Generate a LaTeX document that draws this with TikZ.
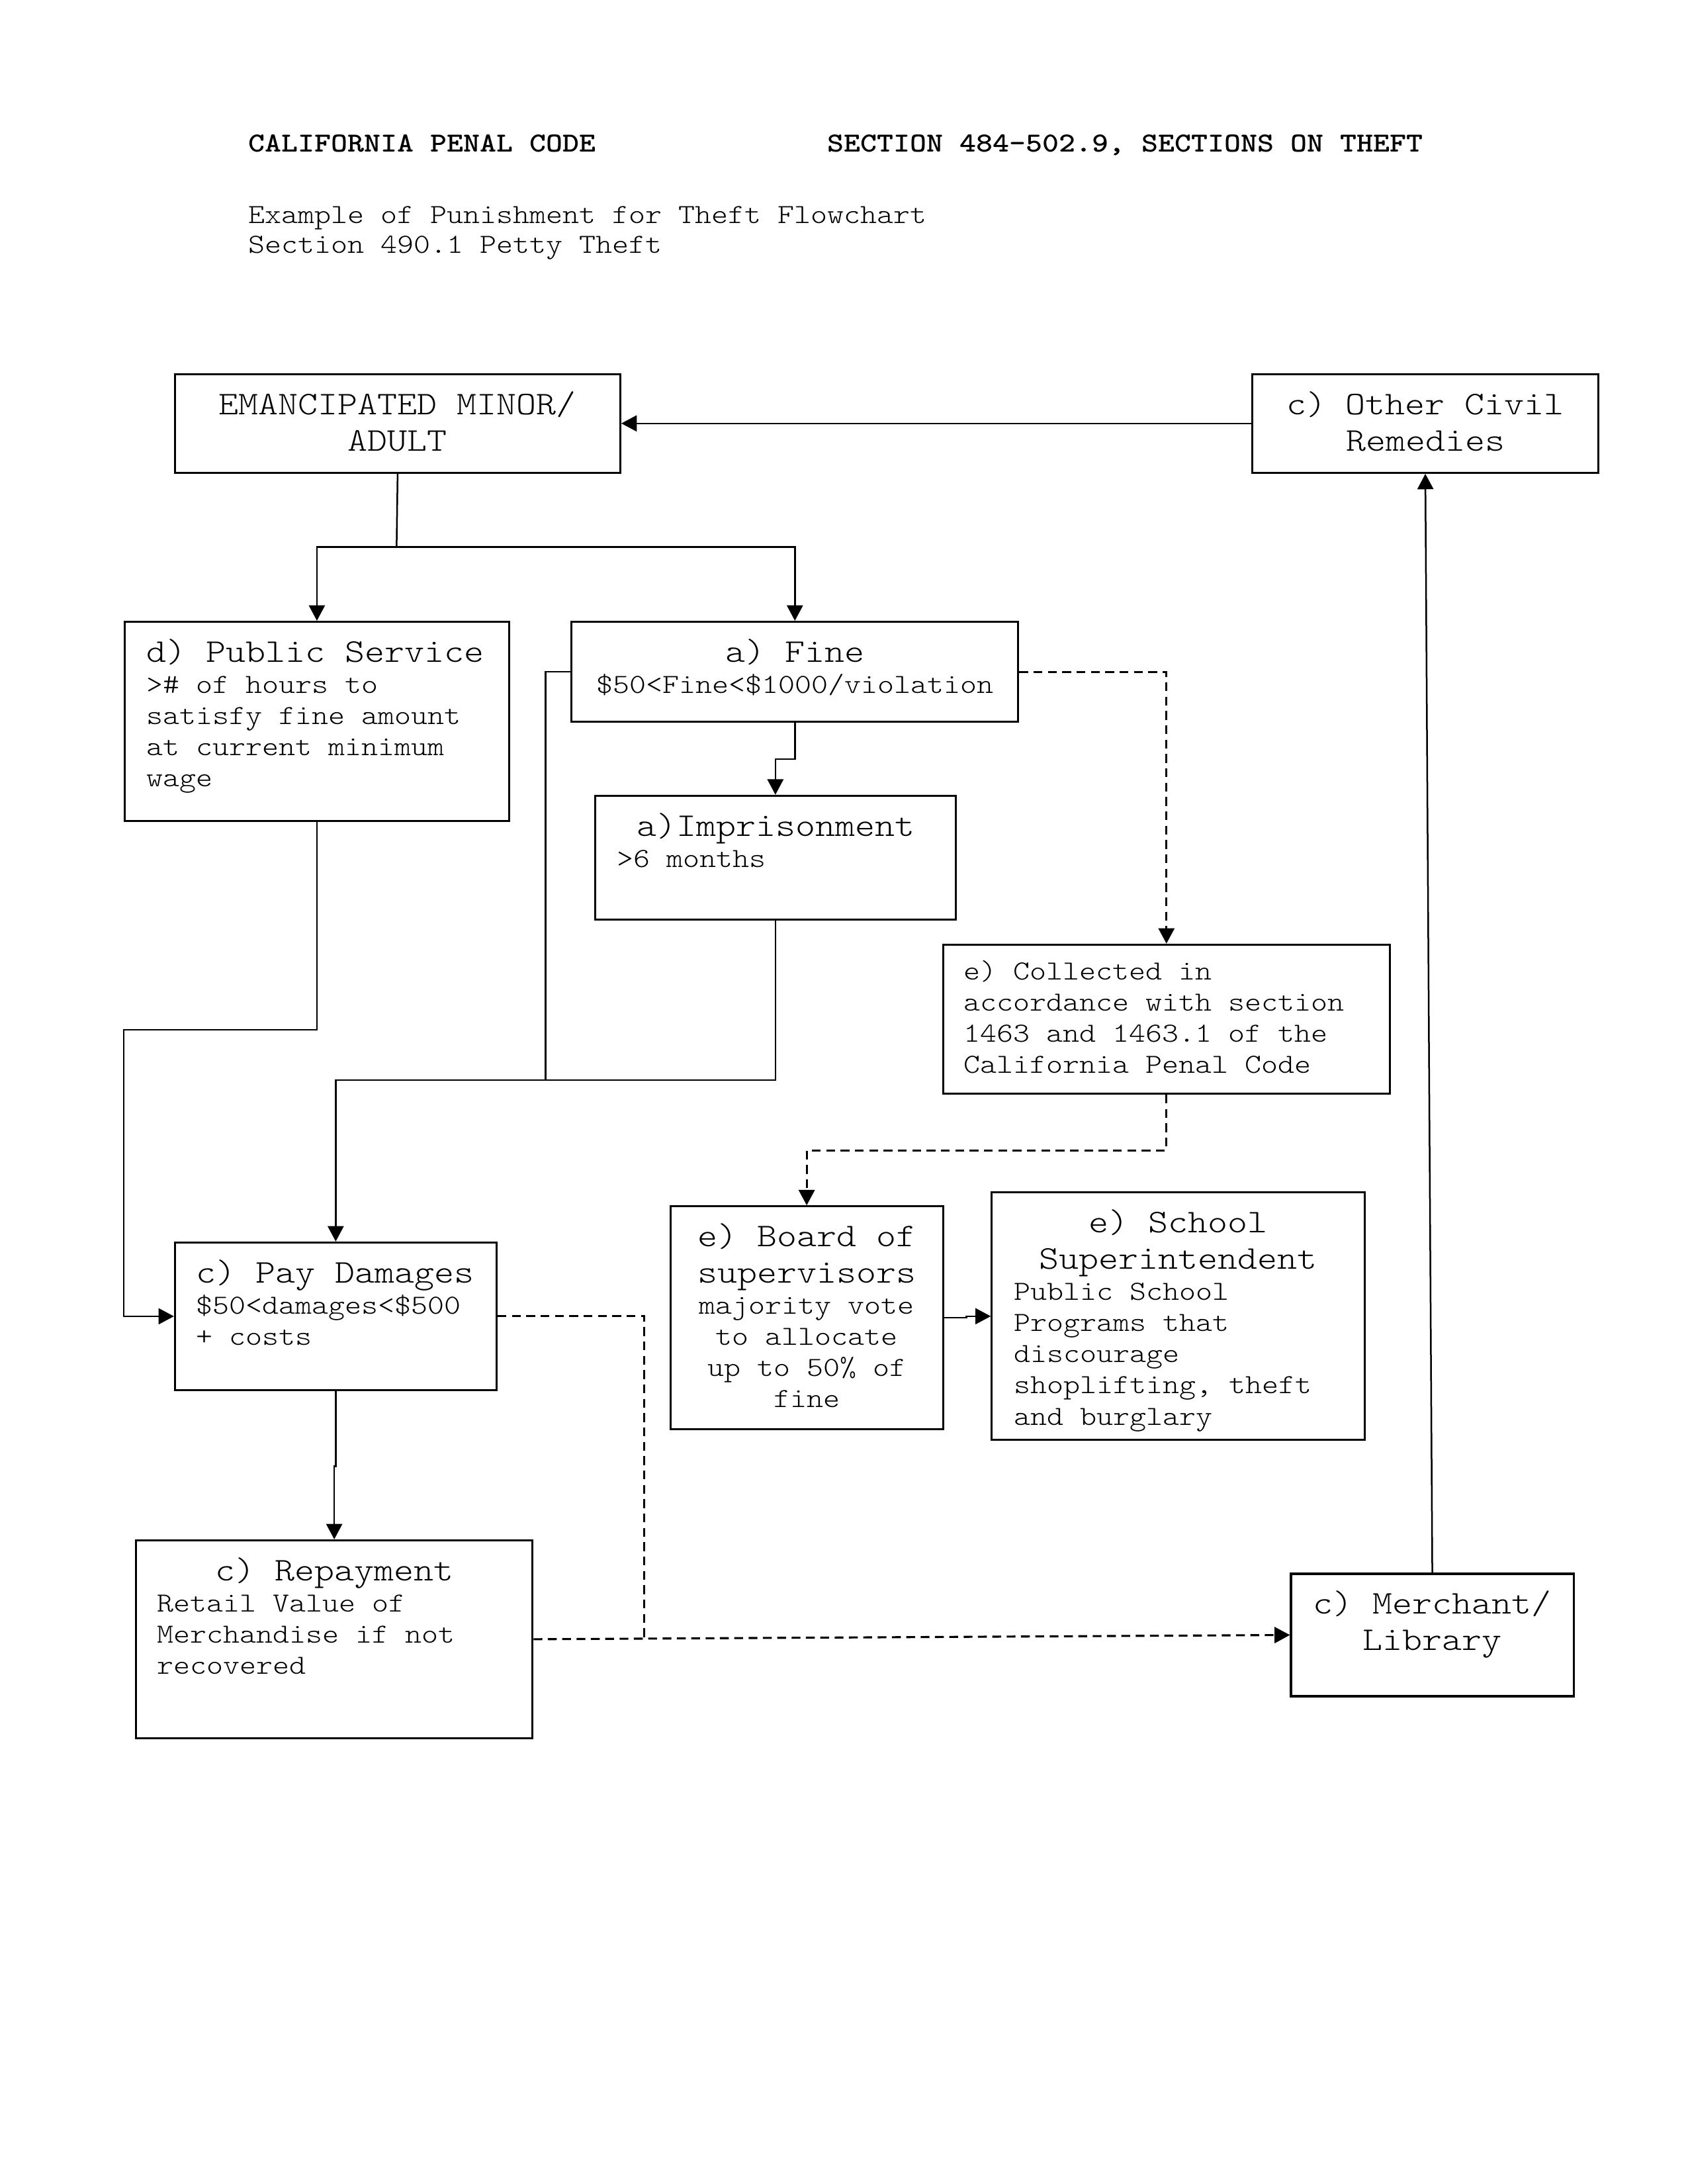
\documentclass[tikz,border=0pt]{standalone}
\usepackage{fontspec}
\setmainfont{Latin Modern Mono Light}[FakeStretch=1.1429]
\usetikzlibrary{arrows.meta}

\newcommand\headln[1]{{\fontsize{12}{13.2}\selectfont\spaceskip=0.6em\xspaceskip=0.6em #1\par}}
\newcommand\bodyln[1]{{\fontsize{10}{11.3}\selectfont\spaceskip=0.6em\xspaceskip=0.6em #1\par}}

\begin{document}
\begin{tikzpicture}[x=0.5047pt,y=-0.5047pt,
    box/.style={draw, line width=0.75pt, anchor=north west, inner ysep=5.6pt, text height=9pt},
    conn/.style={line width=0.6pt},
    arr/.style={conn, -{Triangle[length=5.6pt,width=5.8pt]}},
    dline/.style={line width=0.75pt, dash pattern=on 3.2pt off 2pt},
    darr/.style={dline, -{Triangle[length=5.6pt,width=5.8pt]}},
    hd/.style={anchor=base west, inner sep=0pt, font=\fontsize{10}{12}\selectfont}]
  \useasboundingbox (0,0) rectangle (1212.6,1569.2);

  % page heading
  \node[hd] (code) at (178,109) {\textbf{CALIFORNIA PENAL CODE}};
  \node[hd] (sect) at (594,109) {\textbf{SECTION 484-502.9, SECTIONS ON THEFT}};
  \node[hd] (title) at (178,160.5) {Example of Punishment for Theft Flowchart};
  \node[hd] (sub) at (178,182) {Section 490.1 Petty Theft};

  % boxes
  \node[box, align=center, inner xsep=4pt, text width=153.5pt, text depth=15.6pt] (emanc) at (125,268)
    {\headln{EMANCIPATED MINOR/}\headln{ADULT}};
  \node[box, align=center, inner xsep=4pt, text width=117.7pt, text depth=15.6pt] (civil) at (899,268)
    {\headln{c) Other Civil}\headln{Remedies}};
  \node[box, align=left, inner xsep=7.8pt, text width=123.7pt, text depth=52pt] (public) at (89,446)
    {\headln{d) Public Service}\bodyln{>\# of hours to}\bodyln{satisfy fine amount}%
     \bodyln{at current minimum}\bodyln{wage}};
  \node[box, align=center, inner xsep=4pt, text width=154pt, text depth=16.1pt] (fine) at (410,446)
    {\headln{a) Fine}\bodyln{\$50<Fine<\$1000/violation}};
  \node[box, align=left, inner xsep=8pt, text width=114.7pt, text depth=24.7pt] (prison) at (427,571)
    {\headln{~a)Imprisonment}\bodyln{>6 months}};
  \node[box, align=left, inner xsep=7.6pt, inner ysep=3.8pt, text width=146.8pt, text depth=37.4pt] (collect) at (677,678)
    {\bodyln{e) Collected in}\bodyln{accordance with section}\bodyln{1463 and 1463.1 of the}%
     \bodyln{California Penal Code}};
  \node[box, align=center, inner xsep=4pt, text width=90.9pt, text depth=60.6pt] (board) at (481,866)
    {\headln{e) Board of}\headln{supervisors}\bodyln{majority vote}\bodyln{to allocate}%
     \bodyln{up to 50\% of}\bodyln{fine}};
  \node[box, align=left, inner xsep=8pt, text width=119.3pt, text depth=69.6pt] (school) at (712,856)
    {{\centering\headln{e) School}\headln{Superintendent}}\bodyln{Public School}%
     \bodyln{Programs that}\bodyln{discourage}\bodyln{shoplifting, theft}\bodyln{and burglary}};
  \node[box, align=left, inner xsep=7.6pt, text width=101.4pt, text depth=33.3pt] (pay) at (125,892)
    {\headln{c) Pay Damages}\bodyln{\$50<damages<\$500}\bodyln{+ costs}};
  \node[box, align=left, inner xsep=7.6pt, text width=128.6pt, text depth=51.5pt] (repay) at (97,1106)
    {{\centering\headln{c) Repayment}}\bodyln{Retail Value of}\bodyln{Merchandise if not}%
     \bodyln{recovered}};
  \node[box, align=center, inner xsep=4pt, text width=94.5pt, text depth=24.2pt] (merch) at (927,1130)
    {\headln{c) Merchant/}\headln{Library}};

  % connectors
  \coordinate (split) at (285,393);
  \coordinate (join) at (392,776);
  \coordinate (meet) at (463,1176.6);
  \draw[arr] (civil.west) -- (emanc.east);
  \draw[conn] (emanc.south) -- (split);
  \draw[arr] (split) -| (public.north);
  \draw[arr] (split) -| (fine.north);
  \draw[arr] (fine.south) -- ++(0,26) -| (prison.north);
  \draw[conn] (fine.west) -| (join);
  \draw[arr] (prison.south) |- (join) -| (pay.north);
  \draw[arr] (public.south) |- (89,740) |- (pay.west);
  \draw[darr] (fine.east) -| (collect.north);
  \draw[darr] (collect.south) -- ++(0,40) -| (board.north);
  \draw[arr] (board.east) -- ++(16,0) |- (school.west);
  \draw[arr] (pay.south) -- ++(0,54) -| (repay.north);
  \draw[dline] (pay.east) -| (meet);
  \draw[darr] (repay.east) -- (merch.west);
  \draw[arr] (merch.north) -- (civil.south);
\end{tikzpicture}
\end{document}
